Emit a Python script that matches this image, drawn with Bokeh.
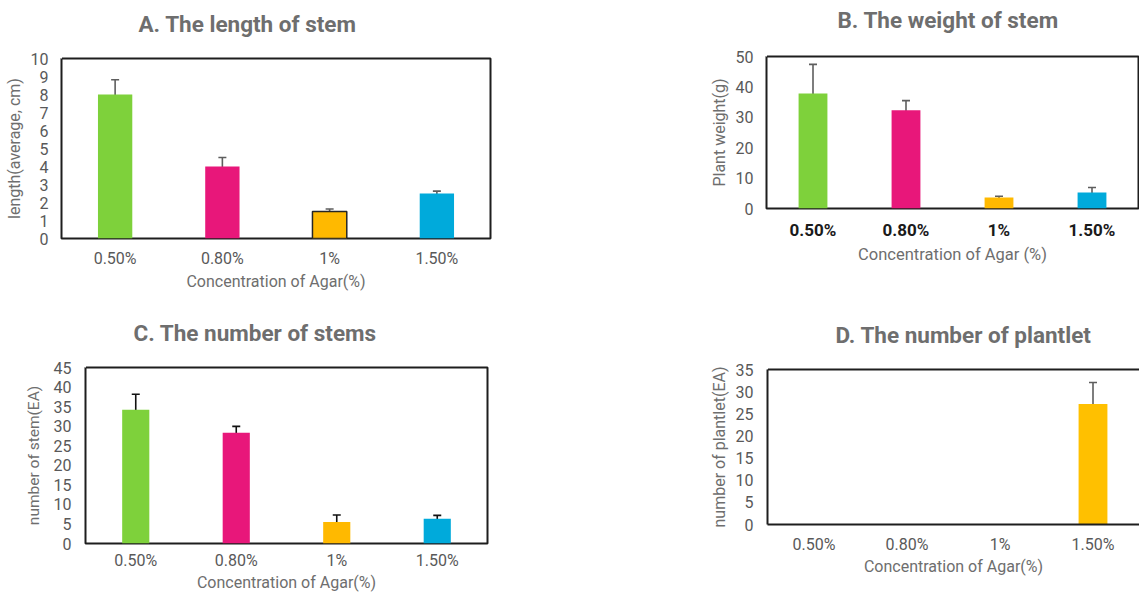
from bokeh.plotting import figure
from bokeh.layouts import row, column
from bokeh.models import (ColumnDataSource, Whisker, TeeHead, SingleIntervalTicker,
                          LinearAxis, FixedTicker)
from bokeh.embed import file_html
from bokeh.resources import INLINE

# ---------------- data ----------------
categories = ["0.50%", "0.80%", "1%", "1.50%"]
bar_colors = ["#7ED13B", "#E8177A", "#FFB900", "#00AADB"]

length_mean = [8.0, 4.0, 1.5, 2.5]
length_err = [0.82, 0.5, 0.14, 0.13]

weight_mean = [37.8, 32.3, 3.6, 5.3]
weight_err = [9.6, 3.2, 0.45, 1.6]

stems_mean = [34.2, 28.3, 5.5, 6.3]
stems_err = [3.95, 1.65, 1.8, 0.9]

plantlet_mean = [0, 0, 0, 27.2]
plantlet_err = [0, 0, 0, 4.85]
plantlet_colors = ["#FFC000", "#FFC000", "#FFC000", "#FFC000"]

FONT = "Roboto"
TITLE_COL = "#6E6E6E"
LABEL_COL = "#6E6E6E"
TICK_COL = "#595959"
FRAME_COL = "#1E1E1E"


def make_panel(title, ylabel, xlabel, means, errs, colors, ymax, yint,
               width, height, bl, br, bt, bb, bar_w, title_x, title_gap,
               whisk_col="#5E5E5E", line_colors=None, outline=True):
    src = ColumnDataSource(dict(
        cat=categories, top=means, color=colors,
        lc=line_colors if line_colors else [None] * len(categories),
    ))
    keep = [i for i, e in enumerate(errs) if e > 0]
    wsrc = ColumnDataSource(dict(
        cat=[categories[i] for i in keep],
        upper=[means[i] + errs[i] for i in keep],
        lower=[means[i] - errs[i] for i in keep],
    ))
    p = figure(x_range=categories, y_range=(0, ymax), width=width, height=height,
               output_backend="svg", toolbar_location=None,
               min_border_left=bl, min_border_right=br, min_border_top=bt,
               min_border_bottom=bb, background_fill_color="white",
               border_fill_color="white")
    p.x_range.range_padding = 0
    xax = p.xaxis[0]
    yax = p.yaxis[0]
    p.vbar(x="cat", top="top", width=bar_w, fill_color="color", line_color="lc",
           line_width=1.5, source=src)
    w = Whisker(base="cat", upper="upper", lower="lower", source=wsrc,
                line_color=whisk_col, line_width=1.6,
                upper_head=TeeHead(size=8, line_color=whisk_col, line_width=1.6),
                lower_head=TeeHead(size=8, line_color=whisk_col, line_width=1.6))
    p.add_layout(w)

    p.title.text = title
    p.title.align = "left"
    p.title.offset = title_x
    p.title.text_font = FONT
    p.title.text_font_size = "22.5px"
    p.title.text_font_style = "bold"
    p.title.text_color = TITLE_COL
    p.title.standoff = 0

    p.xgrid.visible = False
    p.ygrid.visible = False
    if outline:
        p.outline_line_color = FRAME_COL
        p.outline_line_width = 2
        p.outline_line_alpha = 1
    else:
        p.outline_line_color = None

    yax.ticker = SingleIntervalTicker(interval=yint)
    for ax in (xax, yax):
        ax.major_tick_line_color = None
        ax.minor_tick_line_color = None
        ax.major_tick_out = 0
        ax.major_tick_in = 0
        ax.minor_tick_out = 0
        ax.minor_tick_in = 0
        ax.axis_line_color = None if outline else FRAME_COL
        ax.axis_line_width = 2
        ax.major_label_text_font = FONT
        ax.major_label_text_font_size = "16px"
        ax.major_label_text_color = TICK_COL
        ax.axis_label_text_font = FONT
        ax.axis_label_text_font_size = "16px"
        ax.axis_label_text_font_style = "normal"
        ax.axis_label_text_color = LABEL_COL
    yax.axis_label = ylabel
    xax.axis_label = xlabel
    yax.major_label_standoff = 13
    yax.axis_label_standoff = 4
    xax.major_label_standoff = 10
    xax.axis_label_standoff = 1

    # spacer axis between the title and the frame (also the top border of D):
    # a single white tick whose length sets the gap, with an empty label
    top_ax = LinearAxis(ticker=FixedTicker(ticks=[0]), major_tick_out=title_gap,
                        major_tick_in=0, minor_tick_out=0, minor_tick_in=0,
                        major_tick_line_color="white", major_tick_line_width=1,
                        minor_tick_line_color=None,
                        major_label_standoff=0, major_label_overrides={0: ""},
                        major_label_text_font_size="0px",
                        axis_line_color=None if outline else FRAME_COL,
                        axis_line_width=2)
    p.add_layout(top_ax, "above")
    return p, xax, yax


# row 1 (y 0..308)
pA, axA, ayA = make_panel("A. The length of stem", "length(average, cm)", "Concentration of Agar(%)",
                          length_mean, length_err, bar_colors, 10, 1,
                          706, 308, 61, 216, 58, 70, 0.32, 77, 22,
                          line_colors=[None, None, "#262626", None])
pB, axB, ayB = make_panel("B. The weight of stem", "Plant weight(g)", "Concentration of Agar (%)",
                          weight_mean, weight_err, bar_colors, 50, 10,
                          433, 308, 60, 1, 56, 100, 0.31, 71, 24)
axB.major_label_text_font_style = "bold"
axB.major_label_text_color = "#1A1A1A"
axB.major_label_text_font_size = "17px"
axB.major_label_standoff = 11
axB.axis_label_standoff = 2
axB.axis_label_text_font_size = "16.5px"

# row 2 (y 308..594)
pC, axC, ayC = make_panel("C. The number of  stems", "number of stem(EA)", "Concentration of Agar(%)",
                          stems_mean, stems_err, bar_colors, 45, 5,
                          706, 286, 85, 219, 59, 50, 0.27, 48, 22, whisk_col="#111111")
ayC.major_label_standoff = 14
ayC.axis_label_standoff = 8
ayC.axis_label_text_font_size = "15.5px"
axC.major_label_standoff = 7
axC.axis_label_standoff = 0
pD, axD, ayD = make_panel("D. The number of plantlet", "number of plantlet(EA)", "Concentration of Agar(%)",
                          plantlet_mean, plantlet_err, plantlet_colors, 35, 5,
                          433, 286, 60, 0, 61, 70, 0.31, 68, 22, outline=False)
ayD.major_label_standoff = 14
axD.axis_label_standoff = 0

layout = column(row(column(pA), column(pB)), row(column(pC), column(pD)))
open("out.html", "w").write(file_html(layout, INLINE))
